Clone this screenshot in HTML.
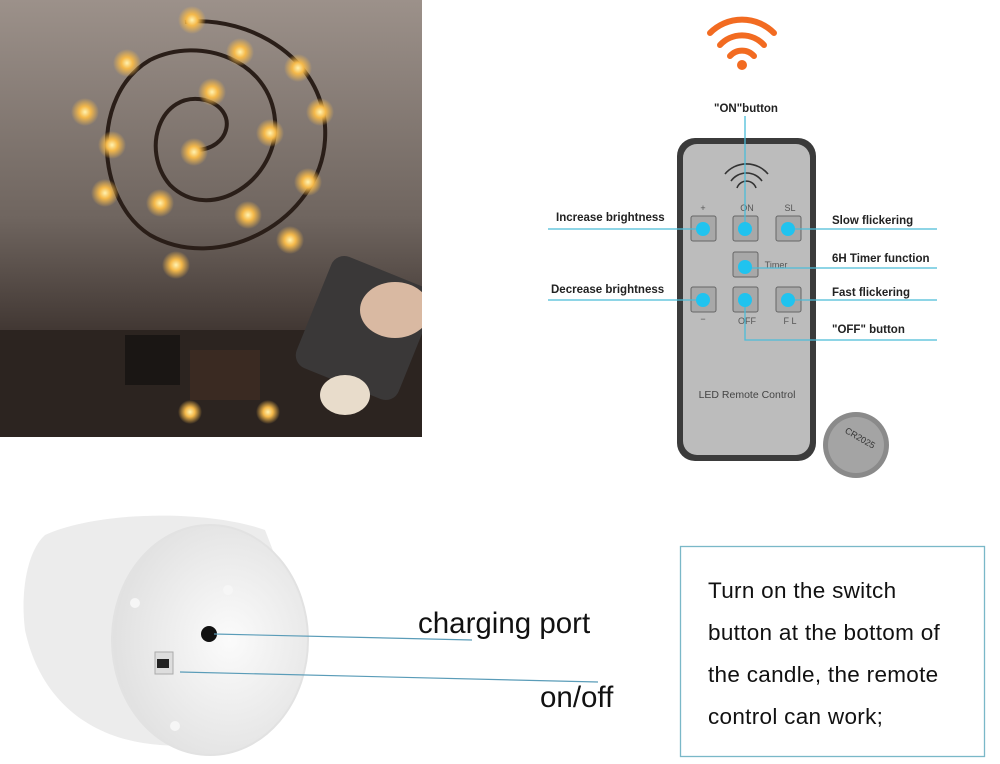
<!DOCTYPE html>
<html><head><style>
body{margin:0;background:#fff;width:1000px;height:759px;overflow:hidden;font-family:"Liberation Sans",sans-serif}
</style></head><body>
<svg width="1000" height="759" viewBox="0 0 1000 759" xmlns="http://www.w3.org/2000/svg">
<defs>
<linearGradient id="wall" x1="0" y1="0" x2="0" y2="1">
<stop offset="0" stop-color="#9c918a"/><stop offset="0.5" stop-color="#6f655f"/><stop offset="0.8" stop-color="#3a302c"/><stop offset="1" stop-color="#2a211e"/>
</linearGradient>
<radialGradient id="glow" cx="0.5" cy="0.5" r="0.5"><stop offset="0" stop-color="#fff2b0"/><stop offset="0.4" stop-color="#f5b94a"/><stop offset="1" stop-color="#f5b94a" stop-opacity="0"/></radialGradient>
<radialGradient id="cand" cx="0.6" cy="0.5" r="0.7"><stop offset="0" stop-color="#fbfbfb"/><stop offset="1" stop-color="#dcdcdc"/></radialGradient>
<clipPath id="ph"><rect x="0" y="0" width="422" height="437"/></clipPath>
</defs>
<g clip-path="url(#ph)">
<rect x="0" y="0" width="422" height="437" fill="url(#wall)"/>
<rect x="0" y="330" width="422" height="107" fill="#2c2420"/>
<rect x="125" y="335" width="55" height="50" fill="#1a1614"/>
<rect x="190" y="350" width="70" height="50" fill="#3a2a22"/>
<g fill="none" stroke="#2a1e18" stroke-width="4">
<path d="M195 150 C230 150 240 110 205 100 C160 90 140 150 170 185 C210 225 280 180 275 120 C270 60 200 35 150 60 C90 95 95 200 150 235 C220 275 320 220 325 140 C330 60 250 15 185 22"/>
</g>
<g>
<circle cx="192" cy="20" r="14" fill="url(#glow)"/><circle cx="240" cy="52" r="14" fill="url(#glow)"/><circle cx="298" cy="68" r="14" fill="url(#glow)"/>
<circle cx="127" cy="63" r="14" fill="url(#glow)"/><circle cx="320" cy="112" r="14" fill="url(#glow)"/><circle cx="85" cy="112" r="14" fill="url(#glow)"/>
<circle cx="212" cy="92" r="14" fill="url(#glow)"/><circle cx="270" cy="133" r="14" fill="url(#glow)"/><circle cx="112" cy="145" r="14" fill="url(#glow)"/>
<circle cx="194" cy="152" r="14" fill="url(#glow)"/><circle cx="308" cy="182" r="14" fill="url(#glow)"/><circle cx="105" cy="193" r="14" fill="url(#glow)"/>
<circle cx="160" cy="203" r="14" fill="url(#glow)"/><circle cx="248" cy="215" r="14" fill="url(#glow)"/><circle cx="290" cy="240" r="14" fill="url(#glow)"/>
<circle cx="176" cy="265" r="14" fill="url(#glow)"/><circle cx="190" cy="412" r="12" fill="url(#glow)"/><circle cx="268" cy="412" r="12" fill="url(#glow)"/>
</g>
<rect x="310" y="268" width="110" height="120" rx="14" fill="#3a3838" transform="rotate(22 365 328)"/>
<ellipse cx="395" cy="310" rx="35" ry="28" fill="#d9b9a2"/>
<ellipse cx="345" cy="395" rx="25" ry="20" fill="#e8dccb"/>
</g>
<!-- wifi -->
<g fill="none" stroke="#f26b21" stroke-width="6" stroke-linecap="round">
<path d="M710 33 A45 45 0 0 1 774 33"/><path d="M720 45 A30 30 0 0 1 764 45"/><path d="M730 56 A16 16 0 0 1 754 56"/>
</g>
<circle cx="742" cy="65" r="5" fill="#f26b21"/>
<!-- remote -->
<rect x="677" y="138" width="139" height="323" rx="18" fill="#3b3b3b"/>
<rect x="683" y="144" width="127" height="311" rx="14" fill="#bcbcbc"/>
<g fill="none" stroke="#333" stroke-width="1.6">
<path d="M725 174 A28 28 0 0 1 768 174"/><path d="M731 181 A19 19 0 0 1 762 181"/><path d="M737 188 A10 10 0 0 1 756 188"/>
</g>
<g font-size="9" fill="#555" text-anchor="middle">
<text x="703" y="211">+</text><text x="747" y="211">ON</text><text x="790" y="211">SL</text>
<text x="703" y="322">−</text><text x="747" y="324">OFF</text><text x="790" y="324">F L</text>
<text x="776" y="268">Timer</text>
<text x="747" y="398" font-size="10.5" fill="#444">LED  Remote  Control</text>
</g>
<g fill="#a8a8a8" stroke="#666" stroke-width="1">
<rect x="691" y="216" width="25" height="25" rx="2"/><rect x="733" y="216" width="25" height="25" rx="2"/><rect x="776" y="216" width="25" height="25" rx="2"/>
<rect x="733" y="252" width="25" height="25" rx="2"/>
<rect x="691" y="287" width="25" height="25" rx="2"/><rect x="733" y="287" width="25" height="25" rx="2"/><rect x="776" y="287" width="25" height="25" rx="2"/>
</g>
<g stroke="#4bbcd8" stroke-width="1.3" fill="none">
<line x1="548" y1="229" x2="703" y2="229"/><line x1="788" y1="229" x2="937" y2="229"/>
<line x1="745" y1="268" x2="937" y2="268"/>
<line x1="548" y1="300" x2="703" y2="300"/><line x1="788" y1="300" x2="937" y2="300"/>
<polyline points="745,300 745,340 937,340"/><line x1="745" y1="229" x2="745" y2="116"/>
</g>
<g fill="#20c3ef">
<circle cx="703" cy="229" r="7"/><circle cx="745" cy="229" r="7"/><circle cx="788" cy="229" r="7"/>
<circle cx="745" cy="267" r="7"/>
<circle cx="703" cy="300" r="7"/><circle cx="745" cy="300" r="7"/><circle cx="788" cy="300" r="7"/>
</g>
<g font-size="11.5" font-weight="bold" fill="#222">
<text x="746" y="112" text-anchor="middle">"ON"button</text>
<text x="556" y="221">Increase brightness</text>
<text x="551" y="293">Decrease brightness</text>
<text x="832" y="224">Slow flickering</text>
<text x="832" y="262">6H Timer function</text>
<text x="832" y="296">Fast flickering</text>
<text x="832" y="333">"OFF" button</text>
</g>
<circle cx="856" cy="445" r="33" fill="#8a8a8a"/><circle cx="856" cy="445" r="28" fill="#a4a4a4"/>
<text x="856" y="440" font-size="9" fill="#333" text-anchor="middle" transform="rotate(30 856 445)">CR2025</text>
<!-- candle -->
<path d="M45 535 C100 510 210 510 265 530 L300 620 C300 720 220 750 160 745 C90 740 40 700 25 630 C20 590 28 550 45 535Z" fill="#ececec"/>
<ellipse cx="210" cy="640" rx="98" ry="115" fill="url(#cand)" stroke="#e2e2e2" stroke-width="2"/>
<circle cx="228" cy="590" r="5" fill="#f6f6f6"/><circle cx="135" cy="603" r="5" fill="#f6f6f6"/><circle cx="175" cy="726" r="5" fill="#f6f6f6"/>
<circle cx="209" cy="634" r="8" fill="#111"/>
<rect x="155" y="652" width="18" height="22" fill="#ddd" stroke="#aaa"/><rect x="157" y="659" width="12" height="9" fill="#222"/>
<g stroke="#5a9cb8" stroke-width="1.2">
<line x1="214" y1="634" x2="472" y2="640"/><line x1="180" y1="672" x2="598" y2="682"/>
</g>
<g font-size="29.5" fill="#111">
<text x="418" y="633">charging port</text>
<text x="540" y="707">on/off</text>
</g>
<!-- text box -->
<rect x="680.5" y="546.5" width="304" height="210" fill="#fff" stroke="#7ab8c8" stroke-width="1.3"/>
<g font-size="22.5" fill="#111" letter-spacing="0.3">
<text x="708" y="598">Turn on the switch</text>
<text x="708" y="640">button at the bottom of</text>
<text x="708" y="682">the candle, the remote</text>
<text x="708" y="724">control can work;</text>
</g>
</svg>
</body></html>
